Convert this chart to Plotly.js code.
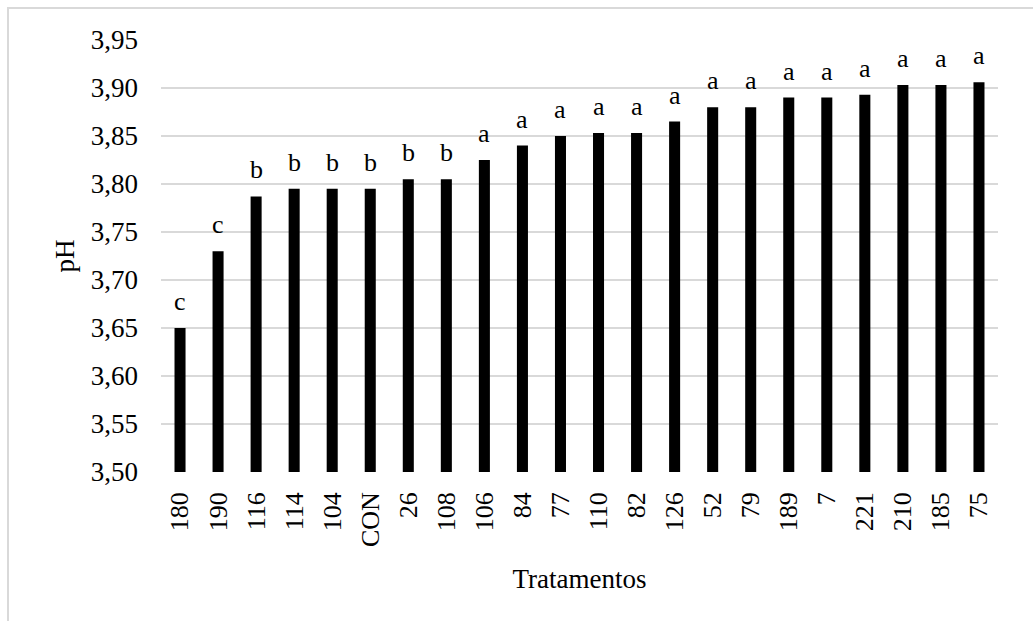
<!DOCTYPE html>
<html>
<head>
<meta charset="utf-8">
<script src="https://cdn.plot.ly/plotly-3.0.1.min.js"></script>
<style>
html,body{margin:0;padding:0;background:#fff;}
#wrap{position:relative;width:1033px;height:621px;overflow:hidden;}
#chart{width:1033px;height:621px;}
#frame{position:absolute;left:7px;top:7px;width:1100px;height:700px;border-left:2px solid #d9d9d9;border-top:2px solid #d9d9d9;pointer-events:none;}
</style>
</head>
<body>
<div id="wrap"><div id="chart"></div><div id="frame"></div></div>
<script>
const tratamentos = ["180","190","116","114","104","CON","26","108","106","84","77","110","82","126","52","79","189","7","221","210","185","75"];
const ph = [3.650,3.730,3.787,3.795,3.795,3.795,3.805,3.805,3.825,3.840,3.850,3.853,3.853,3.865,3.880,3.880,3.890,3.890,3.893,3.903,3.903,3.906];
const letras = ["c","c","b","b","b","b","b","b","a","a","a","a","a","a","a","a","a","a","a","a","a","a"];
const yTicks = [3.50,3.55,3.60,3.65,3.70,3.75,3.80,3.85,3.90,3.95];

const FONT = "Liberation Serif, Times New Roman, serif";

const trace = {
  type: "bar",
  x: tratamentos,
  y: ph,
  marker: {color: "#000000", line: {width: 0}},
  hoverinfo: "skip"
};

// annotation x uses category index (numeric-looking names would be read as indices)
const annotations = tratamentos.map((t, i) => ({
  x: i, y: ph[i], xref: "x", yref: "y",
  text: letras[i], showarrow: false,
  yanchor: "bottom", yshift: 10,
  font: {family: FONT, size: 26, color: "#000"}
}));

const layout = {
  width: 1033, height: 621,
  margin: {l: 161, r: 35, t: 40, b: 149},
  paper_bgcolor: "#fff", plot_bgcolor: "#fff",
  showlegend: false,
  bargap: 0.71,
  font: {family: FONT, size: 26, color: "#000"},
  xaxis: {
    type: "category",
    categoryorder: "array", categoryarray: tratamentos,
    range: [-0.5, tratamentos.length - 0.5],
    tickangle: -90,
    showgrid: false, zeroline: false, showline: false,
    ticks: "", ticklabelstandoff: 14,
    tickfont: {family: FONT, size: 26, color: "#000"},
    title: {text: "Tratamentos", font: {family: FONT, size: 27, color: "#000"}, standoff: 22}
  },
  yaxis: {
    range: [3.5, 3.95],
    tickvals: yTicks,
    ticktext: yTicks.map(v => v.toFixed(2).replace(".", ",")),
    showgrid: true, gridcolor: "#d9d9d9", gridwidth: 1.5,
    zeroline: false, showline: false,
    ticks: "", ticklabelstandoff: 22,
    tickfont: {family: FONT, size: 27, color: "#000"},
    title: {text: "pH", font: {family: FONT, size: 27, color: "#000"}, standoff: 8}
  },
  annotations: annotations
};

Plotly.newPlot("chart", [trace], layout, {staticPlot: true, displayModeBar: false});
</script>
</body>
</html>
